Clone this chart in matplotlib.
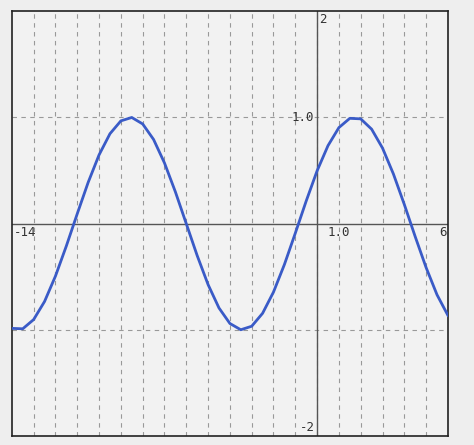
import matplotlib
matplotlib.use("Agg")
import matplotlib.pyplot as plt
import numpy as np

x_vals = [-14,-13.5,-13,-12.5,-12,-11.5,-11,-10.5,-10,-9.5,-9,-8.5,-8,-7.5,-7,-6.5,-6,-5.5,-5,-4.5,-4,-3.5,-3,-2.5,-2,-1.5,-1,-0.5,0,0.5,1,1.5,2,2.5,3,3.5,4,4.5,5,5.5,6]
y_vals = [-0.986,-0.990,-0.903,-0.733,-0.494,-0.210,0.093,0.388,0.647,0.846,0.967,0.999,0.938,0.792,0.571,0.299,-0.001,-0.301,-0.574,-0.794,-0.940,-0.999,-0.966,-0.844,-0.644,-0.385,-0.090,0.213,0.497,0.734,0.904,0.991,0.986,0.889,0.711,0.467,0.180,-0.123,-0.414,-0.670,-0.864]

fig = plt.figure(figsize=(4.74, 4.45), dpi=100)
fig.patch.set_facecolor("#eeeeee")
ax = fig.add_axes([0.025, 0.02, 0.92, 0.955])
ax.set_facecolor("#f2f2f2")
ax.set_xlim(-14, 6)
ax.set_ylim(-2, 2)
for gx in range(-13, 6):
    ax.axvline(gx, color="#999999", lw=0.8, ls=(0, (4, 4)), zorder=1)
for gy in (-1, 1):
    ax.axhline(gy, color="#999999", lw=0.8, ls=(0, (4, 4)), zorder=1)
ax.axhline(0, color="#555555", lw=1, zorder=2)
ax.axvline(0, color="#555555", lw=1, zorder=2)
ax.plot(x_vals, y_vals, color="#3a5bc7", lw=2, zorder=3)
ax.set_xticks([]); ax.set_yticks([])
for s in ax.spines.values():
    s.set_color("#222222"); s.set_linewidth(1.2)
f = dict(family="DejaVu Sans Mono", fontsize=9, color="#333333")
ax.text(-13.9, -0.02, "-14", va="top", ha="left", **f)
ax.text(5.95, -0.02, "6", va="top", ha="right", **f)
ax.text(1.0, -0.02, "1.0", va="top", ha="center", **f)
ax.text(-0.15, 1.0, "1.0", va="center", ha="right", **f)
ax.text(0.1, 1.98, "2", va="top", ha="left", **f)
ax.text(-0.1, -1.98, "-2", va="bottom", ha="right", **f)
fig.savefig("out.png", dpi=100)
